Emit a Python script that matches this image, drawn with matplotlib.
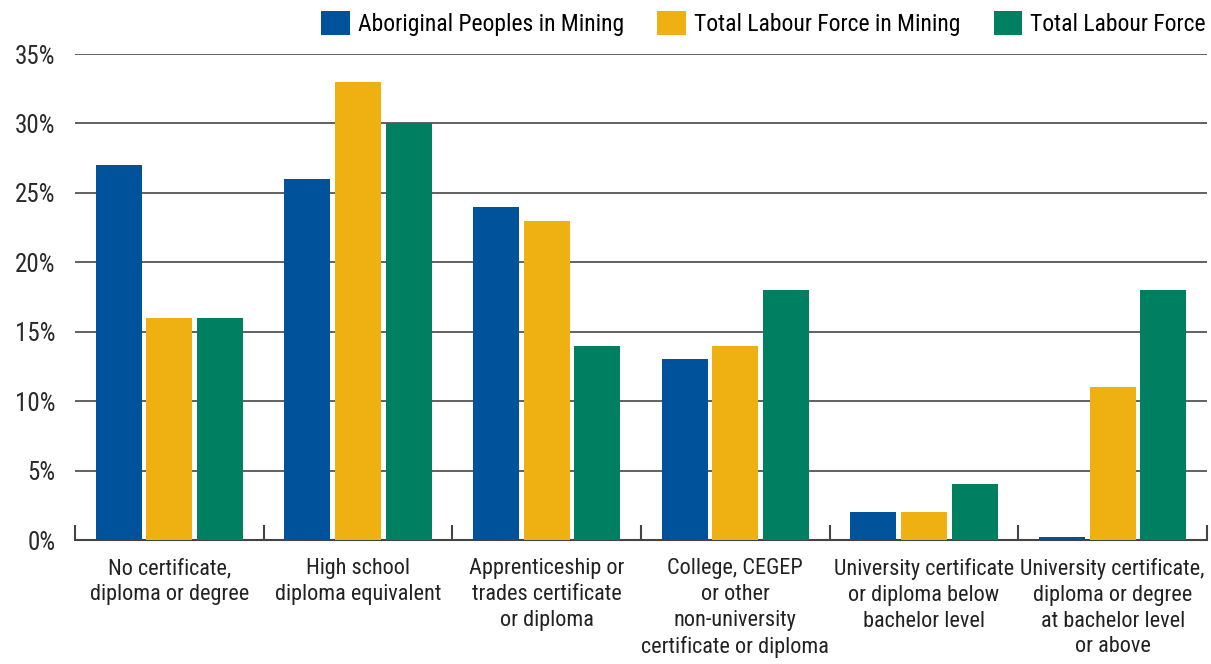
import matplotlib
matplotlib.use("Agg")
import matplotlib.pyplot as plt
import numpy as np
from matplotlib import font_manager

categories = [
    "No certificate,\ndiploma or degree",
    "High school\ndiploma equivalent",
    "Apprenticeship or\ntrades certificate\nor diploma",
    "College, CEGEP\nor other\nnon-university\ncertificate or diploma",
    "University certificate\nor diploma below\nbachelor level",
    "University certificate,\ndiploma or degree\nat bachelor level\nor above",
]
series_names = ["Aboriginal Peoples in Mining", "Total Labour Force in Mining", "Total Labour Force"]
aboriginal = [27, 26, 24, 13, 2, 0.2]
mining = [16, 33, 23, 14, 2, 11]
total = [16, 30, 14, 18, 4, 18]
colors = ["#00529B", "#EEB111", "#008060"]
yticks = [0, 5, 10, 15, 20, 25, 30, 35]

names = {f.name for f in font_manager.fontManager.ttflist}
fams = [f for f in ["Roboto Condensed", "Archivo Narrow", "PT Sans Narrow", "Liberation Sans"] if f in names]
plt.rcParams["font.family"] = fams + ["DejaVu Sans"]

FS = 16
fig = plt.figure(figsize=(12.11, 6.64), dpi=100)
ax = fig.add_axes([75/1211, 1-540/664, (1207-75)/1211, (540-54)/664])

x = np.arange(len(categories))
w = 0.244
off = 0.268
for i, (vals, c, n) in enumerate(zip([aboriginal, mining, total], colors, series_names)):
    ax.bar(x + (i-1)*off, vals, width=w, color=c, label=n, zorder=3)

ax.set_xlim(-0.5, len(categories)-0.5)
ax.set_ylim(0, 35)
ax.set_yticks(yticks)
ax.set_yticklabels([f"{v}%" for v in yticks], fontsize=18, color="#2a2a2a")
ax.yaxis.grid(True, color="#555555", linewidth=1.3, zorder=0)
ax.tick_params(axis="y", length=0, pad=14)
ax.set_xticks(x)
ax.set_xticklabels(categories, fontsize=FS, color="#222222", linespacing=1.3, va="top")
ax.tick_params(axis="x", length=0, pad=13)
ax.set_xticks(np.arange(-0.5, len(categories)), minor=True)
ax.tick_params(axis="x", which="minor", length=11, width=1.5, direction="in", color="#444444")
for s in ["left", "right", "top"]:
    ax.spines[s].set_visible(False)
ax.spines["bottom"].set_color("#444444")
ax.spines["bottom"].set_linewidth(1.5)

fig.legend(loc="upper right", bbox_to_anchor=(1206/1211, 1-11/664), ncol=3, frameon=False,
           fontsize=17, handlelength=1.22, handleheight=1.18,
           handletextpad=0.34, columnspacing=1.4, borderaxespad=0, borderpad=0)

fig.savefig("out.png", dpi=100)
